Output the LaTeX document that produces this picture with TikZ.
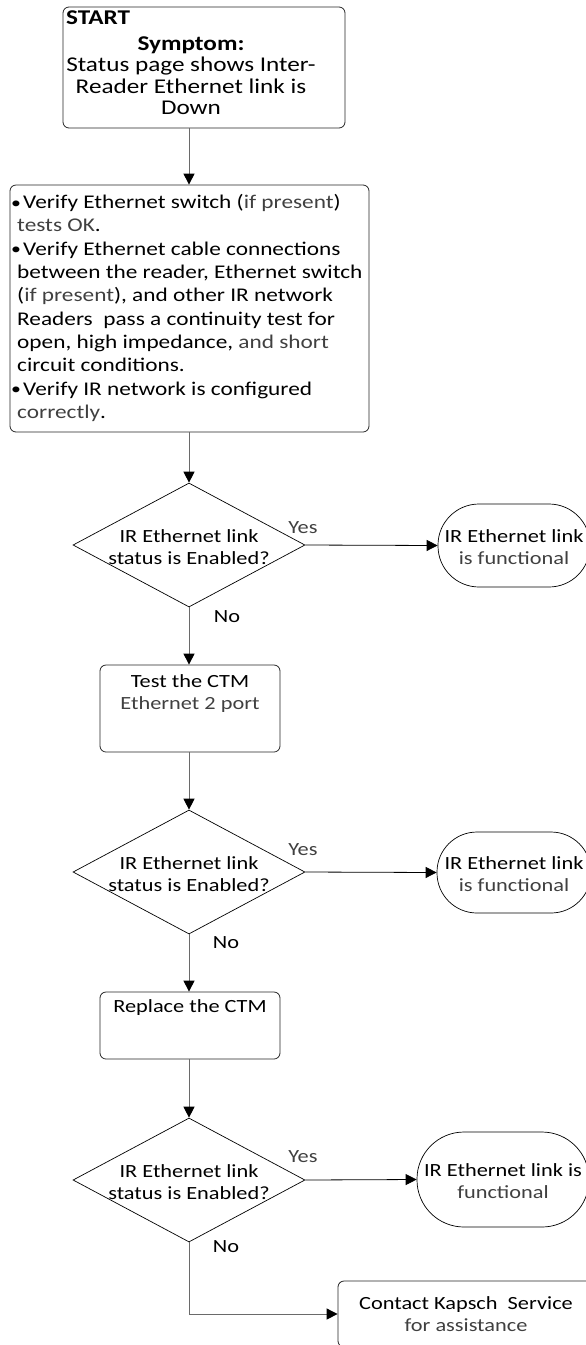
\documentclass[tikz,border=0pt]{standalone}
\usepackage{fontspec}
\usepackage{graphicx}
\setmainfont{Carlito}[FakeStretch=1.2]
\usetikzlibrary{arrows.meta,shapes.geometric}
\definecolor{txtgray}{HTML}{404040}
\definecolor{linegray}{HTML}{6A6A6A}
\newcommand\bul{\makebox[12pt][l]{\raisebox{0.5pt}{\scalebox{0.85}{\textbullet}}}}
\newcommand\cont{\hspace*{6pt}}
\begin{document}
\begin{tikzpicture}[x=1pt,y=-1pt,
  box/.style={draw=black!85, line width=0.8pt, rounded corners=6pt, inner sep=0pt},
  term/.style={draw=black, line width=0.7pt, inner sep=0pt},
  dia/.style={draw=black, line width=0.7pt, diamond, inner sep=0pt, minimum width=232pt, minimum height=124pt},
  txt/.style={inner sep=0pt, align=center, font=\fontsize{18.6}{22}\selectfont},
  bigtxt/.style={inner sep=0pt, align=center, font=\fontsize{21}{21.4}\selectfont},
  conn/.style={draw=linegray, line width=1pt, -{Triangle[width=11pt,length=11pt,color=black]}},
  yesconn/.style={draw=black, line width=0.8pt, -{Triangle[width=11pt,length=11pt]}},
  lab/.style={inner sep=0pt, font=\fontsize{18.6}{22}\selectfont}
]
\useasboundingbox (0,0) rectangle (586,1345);
\clip (0,0) rectangle (586,1345);

% start box
\node[box, minimum width=282pt, minimum height=121pt] (start) at (204,67.5) {};
\node[bigtxt, anchor=west] (startlab) at (66,18) {\textbf{START}};
\node[bigtxt] (symptom) at (191,75.5) {\textbf{Symptom:}\\Status page shows Inter-\\Reader Ethernet link is\\Down};

% verify box
\node[box, minimum width=359pt, minimum height=247pt] (verify) at (189.5,308.5) {};
\node[inner sep=0pt, align=left, anchor=west, font=\fontsize{19.4}{23.3}\selectfont] (verifytxt) at (11,308) {%
\bul Verify Ethernet switch ({\color{txtgray}if present})\\
\cont{\color{txtgray}tests OK}.\\
\bul Verify Ethernet cable connections\\
\cont between the reader, Ethernet switch\\
\cont ({\color{txtgray}if present}), and other IR network\\
\cont Readers\ \ pass a continuity test for\\
\cont open, high impedance, {\color{txtgray}and short}\\
\cont circuit conditions.\\
\bul Verify IR network is configured\\
\cont {\color{txtgray}correctly}.};

% decision 1
\node[dia] (d1) at (189,545) {};
\node[txt] (d1txt) at (189,547) {IR Ethernet link\\status is Enabled?};
\node[term, rounded corners=41pt, minimum width=152pt, minimum height=83pt] (t1) at (514,545.5) {};
\node[txt] (t1txt) at (514,547) {IR Ethernet link\\{\color{txtgray}is functional}};
\node[lab, text=txtgray] (yes1) at (303,528) {Yes};
\node[lab] (no1) at (227,617) {No};

% test box
\node[box, minimum width=180pt, minimum height=87pt] (b3) at (190,708.5) {};
\node[txt] (b3txt) at (190,694) {Test the CTM\\{\color{txtgray}Ethernet 2 port}};

% decision 2
\node[dia] (d2) at (189,872) {};
\node[txt] (d2txt) at (189,874) {IR Ethernet link\\status is Enabled?};
\node[term, rounded corners=40pt, minimum width=154pt, minimum height=81pt] (t2) at (514,872.5) {};
\node[txt] (t2txt) at (514,874) {IR Ethernet link\\{\color{txtgray}is functional}};
\node[lab, text=txtgray] (yes2) at (303,850) {Yes};
\node[lab] (no2) at (226,943) {No};

% replace box
\node[box, minimum width=180pt, minimum height=67pt] (b4) at (190,1025.5) {};
\node[txt] (b4txt) at (190,1008) {Replace the CTM};

% decision 3
\node[dia] (d3) at (189,1180) {};
\node[txt] (d3txt) at (189,1182) {IR Ethernet link\\status is Enabled?};
\node[term, rounded corners=47pt, minimum width=172pt, minimum height=95pt] (t3) at (503,1179.5) {};
\node[txt] (t3txt) at (503,1181) {IR Ethernet link is\\{\color{txtgray}functional}};
\node[lab, text=txtgray] (yes3) at (303,1157) {Yes};
\node[lab] (no3) at (226,1247) {No};

% contact box
\node[box, minimum width=256pt, minimum height=66pt] (contact) at (466,1314) {};
\node[txt] (contacttxt) at (466,1314) {Contact Kapsch\ \ Service\\{\color{txtgray}for assistance}};

% connectors
\draw[conn] (d1.north |- start.south) -- (d1.north |- verify.north);
\draw[conn] (d1.north |- verify.south) -- (d1.north);
\draw[yesconn] (d1.east) -- (t1.west);
\draw[conn] (d1.south) -- (d1.south |- b3.north);
\draw[conn] (d1.south |- b3.south) -- (d2.north);
\draw[yesconn] (d2.east) -- (t2.west);
\draw[conn] (d2.south) -- (d2.south |- b4.north);
\draw[conn] (d2.south |- b4.south) -- (d3.north);
\draw[yesconn] (d3.east) -- (t3.west);
\draw[conn] (d3.south) |- (contact.west);
\end{tikzpicture}
\end{document}
